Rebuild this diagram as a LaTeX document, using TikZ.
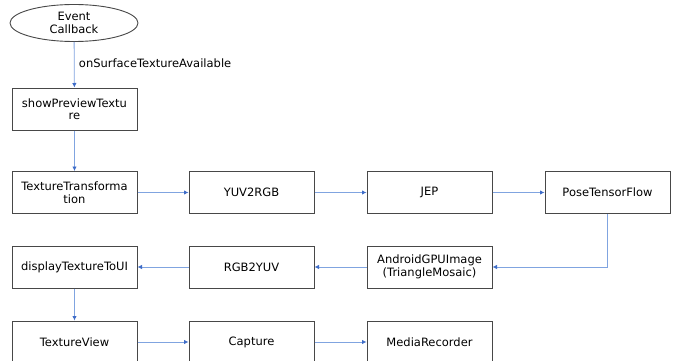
\documentclass[tikz,border=0pt]{standalone}
\usepackage{fontspec}
\usepackage{tikz}
\usetikzlibrary{arrows.meta,shapes.geometric}
\newfontfamily\flowfont{DejaVu Sans}
\definecolor{FlowLine}{RGB}{128,164,224}
\definecolor{FlowTip}{RGB}{62,108,200}
\definecolor{FlowBorder}{RGB}{72,72,72}

\begin{document}
\begin{tikzpicture}[x=1pt, y=-1pt,
        stage/.style={draw=FlowBorder, line width=1pt, fill=white, minimum width=125pt, minimum height=42pt,
                    inner sep=0pt, align=center, font=\flowfont\fontsize{11.5}{12.5}\selectfont},
    start/.style={draw=FlowBorder, line width=0.9pt, ellipse, minimum width=128pt, minimum height=37pt,
                    inner sep=0pt, align=center, font=\flowfont\fontsize{11.5}{12.5}\selectfont},
        arr/.style={-{Latex[length=4.5pt, width=4.5pt, color=FlowTip]}, draw=FlowLine, line width=0.8pt}
]
    \clip (0,0) rectangle (677,361);
    \fill[white] (0,0) rectangle (677,361);
    \node[start] (ev) at (74,23) {Event\\Callback};
    \node[stage] (prev) at (74.5,109) {showPreviewTextu\\re};
    \node[stage] (tt) at (74.5,192.5) {TextureTransforma\\tion};
    \node[stage] (yuv) at (251.5,192.5) {YUV2RGB};
    \node[stage] (jep) at (429.5,192.5) {JEP};
    \node[stage] (pose) at (607.5,192.5) {PoseTensorFlow};
    \node[stage] (agpu) at (429.5,267) {AndroidGPUImage\\(TriangleMosaic)};
    \node[stage] (rgb) at (251.5,267) {RGB2YUV};
    \node[stage] (disp) at (74.5,267) {displayTextureToUI};
    \node[stage] (tv) at (74.5,342) {TextureView};
    \node[stage] (cap) at (251.5,342) {Capture};
    \node[stage] (mr) at (429.5,342) {MediaRecorder};
    % connectors
    \draw[arr] (ev) -- node[right, xshift=1pt, yshift=2pt, font=\flowfont\fontsize{11.5}{12.5}\selectfont] (cbk) {onSurfaceTextureAvailable} (prev);
    \draw[arr] (prev) -- (tt);
    \draw[arr] (tt) -- (yuv);
    \draw[arr] (yuv) -- (jep);
    \draw[arr] (jep) -- (pose);
    \draw[arr] (pose.south) |- (agpu.east);
    \draw[arr] (agpu) -- (rgb);
    \draw[arr] (rgb) -- (disp);
    \draw[arr] (disp) -- (tv);
    \draw[arr] (tv) -- (cap);
    \draw[arr] (cap) -- (mr);
\end{tikzpicture}
\end{document}
